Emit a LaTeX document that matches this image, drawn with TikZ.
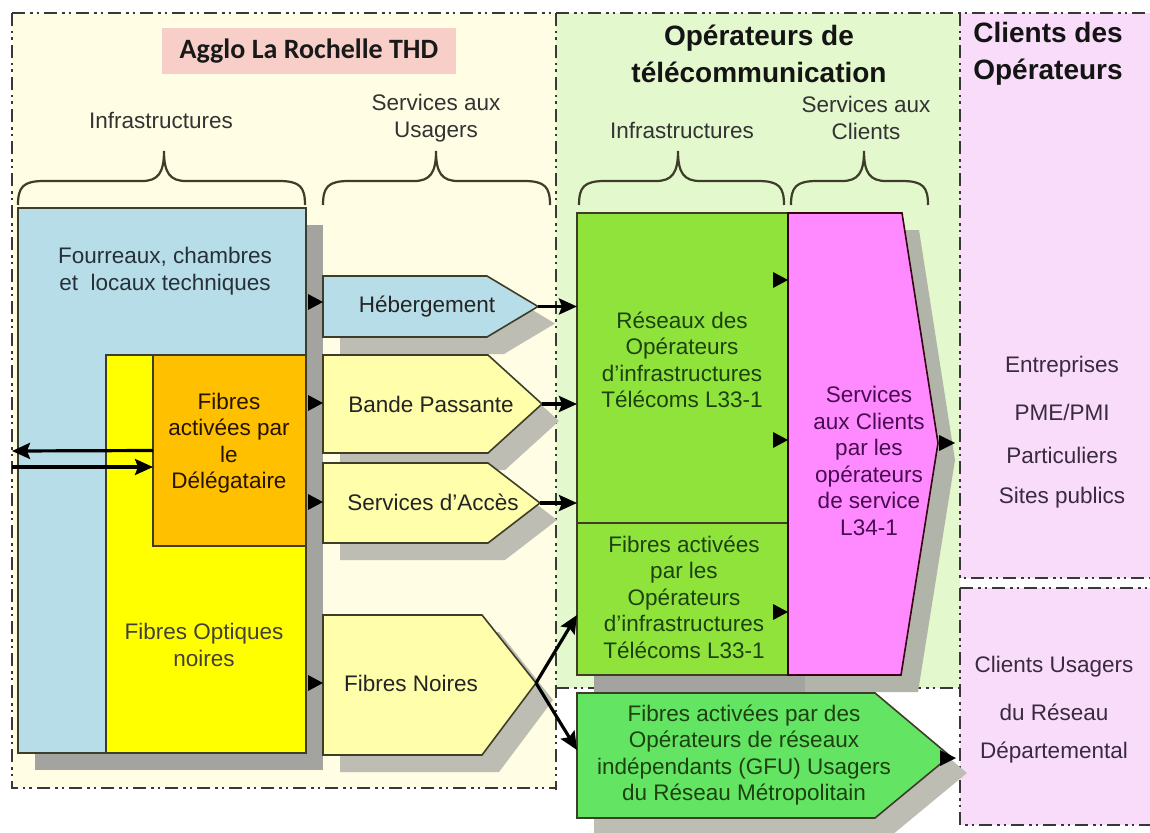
\documentclass[tikz,border=0pt]{standalone}
\usepackage{fontspec}
\setmainfont{Liberation Sans}
\newfontfamily\calib{Carlito}
\usetikzlibrary{arrows.meta,calc}
\definecolor{regY}{HTML}{FFFDE3}
\definecolor{regG}{HTML}{E3F8CD}
\definecolor{regP}{HTML}{F9DCF9}
\definecolor{titleC}{HTML}{F8CFC8}
\definecolor{blueC}{HTML}{B7DEE8}
\definecolor{yelC}{HTML}{FFFF00}
\definecolor{oraC}{HTML}{FFC000}
\definecolor{paleY}{HTML}{FFFEAA}
\definecolor{limeC}{HTML}{8FE33B}
\definecolor{gfuC}{HTML}{63E463}
\definecolor{pinkC}{HTML}{FF8AFF}
\definecolor{shadC}{HTML}{A3A3A0}
\definecolor{pshadC}{HTML}{BDBDB3}
\definecolor{edgeC}{HTML}{3D3D2A}
\definecolor{ddC}{HTML}{383838}
\definecolor{txtD}{HTML}{242424}
\definecolor{txtB}{HTML}{263038}
\definecolor{txtG}{HTML}{1D4210}
\definecolor{txtP}{HTML}{480C50}
\definecolor{txtC}{HTML}{3A2A40}
\newcommand\lbfont{\fontsize{22.5}{26.5}\selectfont}
\newcommand\hdfont{\fontsize{28}{37}\selectfont\bfseries}
\newcommand\curlyb[3]{\draw[brc] (#1,205) .. controls (#1,187) and (#1+5,181) .. (#1+26,181) -- (#2-22,181) .. controls (#2-6,181) and (#2,173) .. (#2,151) .. controls (#2,173) and (#2+6,181) .. (#2+22,181) -- (#3-26,181) .. controls (#3-5,181) and (#3,187) .. (#3,205);}
\tikzset{
  dd/.style={draw=ddC, line width=2.2pt, dash pattern=on 13pt off 5pt on 2.5pt off 4pt on 2.5pt off 5pt},
  box/.style={draw=edgeC, line width=1.6pt, inner sep=0pt, outer sep=0pt, anchor=north west},
  pent/.style={draw=edgeC, line width=1.6pt},
  txt/.style={font=\lbfont, align=center, inner sep=0pt, text=txtD},
  brc/.style={draw=edgeC, line width=2.2pt},
  conn/.style={draw=black, line width=3.2pt, -{Stealth[length=18pt,width=16pt,inset=3pt]}},
  headtri/.style={fill=black}
}
\begin{document}
\begin{tikzpicture}[x=1pt,y=-1pt]
\useasboundingbox (0,0) rectangle (1150,832);
\fill[white] (0,0) rectangle (1150,832);
% regions
\fill[regY] (12,13) rectangle (556,788);
\fill[regG] (556,13) rectangle (960,688);
\fill[regP] (960,13) rectangle (1150,578);
\fill[regP] (960,588) rectangle (1150,825);
\draw[dd] (12,13) -- (1150,13);
\draw[dd] (12,13) -- (12,788) -- (556,788);
\draw[dd] (556,13) -- (556,790);
\draw[dd] (960,13) -- (960,578) -- (1150,578);
\draw[dd] (960,588) -- (1150,588);
\draw[dd] (960,588) -- (960,825) -- (1150,825);
\draw[dd] (556,688) -- (960,688);
% titles
\node[fill=titleC, minimum width=294pt, minimum height=46pt, inner sep=0pt, font=\calib\bfseries\fontsize{28}{30}\selectfont, text=black!90] (title) at (309,51) {Agglo La Rochelle THD};
\node[txt, font=\hdfont, text=black!92] (opTitle) at (759,53.5) {Opérateurs de\\télécommunication};
\node[txt, font=\hdfont, text=black!92] (clTitle) at (1048,53.5) {Clients des\\Opérateurs};
\node[txt, text=black!80] (infra1) at (161,120) {Infrastructures};
\node[txt, text=black!80] (serv1) at (436,118) {Services aux\\Usagers};
\node[txt, text=black!80] (infra2) at (682,130) {Infrastructures};
\node[txt, text=black!80] (serv2) at (866,118) {Services aux\\Clients};
% braces
\curlyb{18}{164}{305}
\curlyb{323}{436}{550}
\curlyb{579}{678}{784}
\curlyb{791}{864}{928}
% shadows
\fill[shadC] (35,225) rectangle (323,770);
\fill[shadC] (594,230) rectangle (805,692);
\begin{scope}[shift={(17,17)}]
\fill[pshadC] (323,276) -- (487,276) -- (538,306.5) -- (487,337) -- (323,337) -- cycle;
\fill[pshadC] (323,355) -- (488,355) -- (542,404) -- (488,453) -- (323,453) -- cycle;
\fill[pshadC] (323,463) -- (488,463) -- (540,503) -- (488,543) -- (323,543) -- cycle;
\fill[pshadC] (323,615) -- (482,615) -- (536,683) -- (482,755) -- (323,755) -- cycle;
\fill[shadC!80!regG] (788,213) -- (902,213) -- (938,443) -- (901,675) -- (788,675) -- cycle;
\fill[pshadC] (577,693) -- (875,693) -- (950,756) -- (875,818) -- (577,818) -- cycle;
\end{scope}
% left boxes
\node[box, fill=blueC, minimum width=288pt, minimum height=545pt] (fourreaux) at (18,208) {};
\node[box, fill=yelC, minimum width=200pt, minimum height=398pt] (fon) at (106,355) {};
\node[box, fill=oraC, minimum width=153pt, minimum height=191pt] (deleg) at (153,355) {};
\node[txt, text=txtB] (fourreauxT) at (165,271) {Fourreaux, chambres\\et\ \ locaux techniques};
\node[txt, text=black!85!orange] (delegT) at (229,443) {Fibres\\activées par\\le\\Délégataire};
\node[txt, text=black!85!yellow] (fonT) at (204,645) {Fibres Optiques\\noires};
% service pentagons
\coordinate (hebTip) at (538,306.5);
\coordinate (bpTip) at (542,404);
\coordinate (accTip) at (540,503);
\coordinate (fnTip) at (536,683);
\filldraw[pent, fill=blueC] (323,276) -- (487,276) -- (hebTip) -- (487,337) -- (323,337) -- cycle;
\filldraw[pent, fill=paleY] (323,355) -- (488,355) -- (bpTip) -- (488,453) -- (323,453) -- cycle;
\filldraw[pent, fill=paleY] (323,463) -- (488,463) -- (accTip) -- (488,543) -- (323,543) -- cycle;
\filldraw[pent, fill=paleY] (323,615) -- (482,615) -- (fnTip) -- (482,755) -- (323,755) -- cycle;
\node[txt] (heb) at (427,307) {Hébergement};
\node[txt] (bp) at (431,404) {Bande Passante};
\node[txt] (acc) at (433,502) {Services d’Accès};
\node[txt] (fn) at (411,683) {Fibres Noires};
% input arrowheads
\foreach \yy in {302,403,502,683}{
  \fill[headtri] (308,\yy-8) -- (323,\yy) -- (308,\yy+8) -- cycle;
}
% operators
\node[box, fill=limeC, minimum width=211pt, minimum height=310pt] (reseaux) at (577,213) {};
\node[box, fill=limeC, minimum width=211pt, minimum height=152pt] (fibop) at (577,523) {};
\coordinate (pinkTip) at (938,443);
\filldraw[pent, draw=black!70!purple, fill=pinkC] (788,213) -- (902,213) -- (pinkTip) -- (901,675) -- (788,675) -- cycle;
\node[txt, text=txtG] (reseauxT) at (682,360) {Réseaux des\\Opérateurs\\d’infrastructures\\Télécoms L33-1};
\node[txt, text=txtG] (fibopT) at (684,597) {Fibres activées\\par les\\Opérateurs\\d’infrastructures\\Télécoms L33-1};
\node[txt, text=txtP] (servT) at (869,461) {Services\\aux Clients\\par les\\opérateurs\\de service\\L34-1};
\foreach \yy in {280,440,612}{
  \fill[headtri] (773,\yy-8) -- (788,\yy) -- (773,\yy+8) -- cycle;
}
\fill[headtri] (939,443-8) -- (955,443) -- (939,443+8) -- cycle;
% GFU
\coordinate (gfuTip) at (950,756);
\filldraw[pent, fill=gfuC] (577,693) -- (875,693) -- (gfuTip) -- (875,818) -- (577,818) -- cycle;
\node[txt, text=txtG] (gfuT) at (744,755) {Fibres activées par des\\Opérateurs de réseaux\\indépendants (GFU) Usagers\\du Réseau Métropolitain};
\fill[headtri] (940,758-8) -- (956,758) -- (940,758+8) -- cycle;
% connectors
\draw[conn] (hebTip) -- (hebTip -| reseaux.west);
\draw[conn] (bpTip) -- (bpTip -| reseaux.west);
\draw[conn] (accTip) -- (accTip -| reseaux.west);
\coordinate (fibIn) at ($(fibop.west)+(0,16)$);
\coordinate (gfuIn) at (577,750);
\draw[conn] (fnTip) -- (fibIn);
\draw[conn] (fnTip) -- (gfuIn);
\coordinate (extOut) at (12,451);
\coordinate (extIn) at (12,467);
\draw[conn] (deleg.west) -- (extOut);
\draw[conn] (extIn) -- (extIn -| deleg.west);
% clients
\node[txt, text=txtC] (c1) at (1062,367) {Entreprises};
\node[txt, text=txtC] (c2) at (1062,412) {PME/PMI};
\node[txt, text=txtC] (c3) at (1062,455) {Particuliers};
\node[txt, text=txtC] (c4) at (1062,498) {Sites publics};
\node[txt, text=txtC] (u1) at (1054,667) {Clients Usagers};
\node[txt, text=txtC] (u2) at (1054,712) {du Réseau};
\node[txt, text=txtC] (u3) at (1054,753) {Départemental};
\end{tikzpicture}
\end{document}
